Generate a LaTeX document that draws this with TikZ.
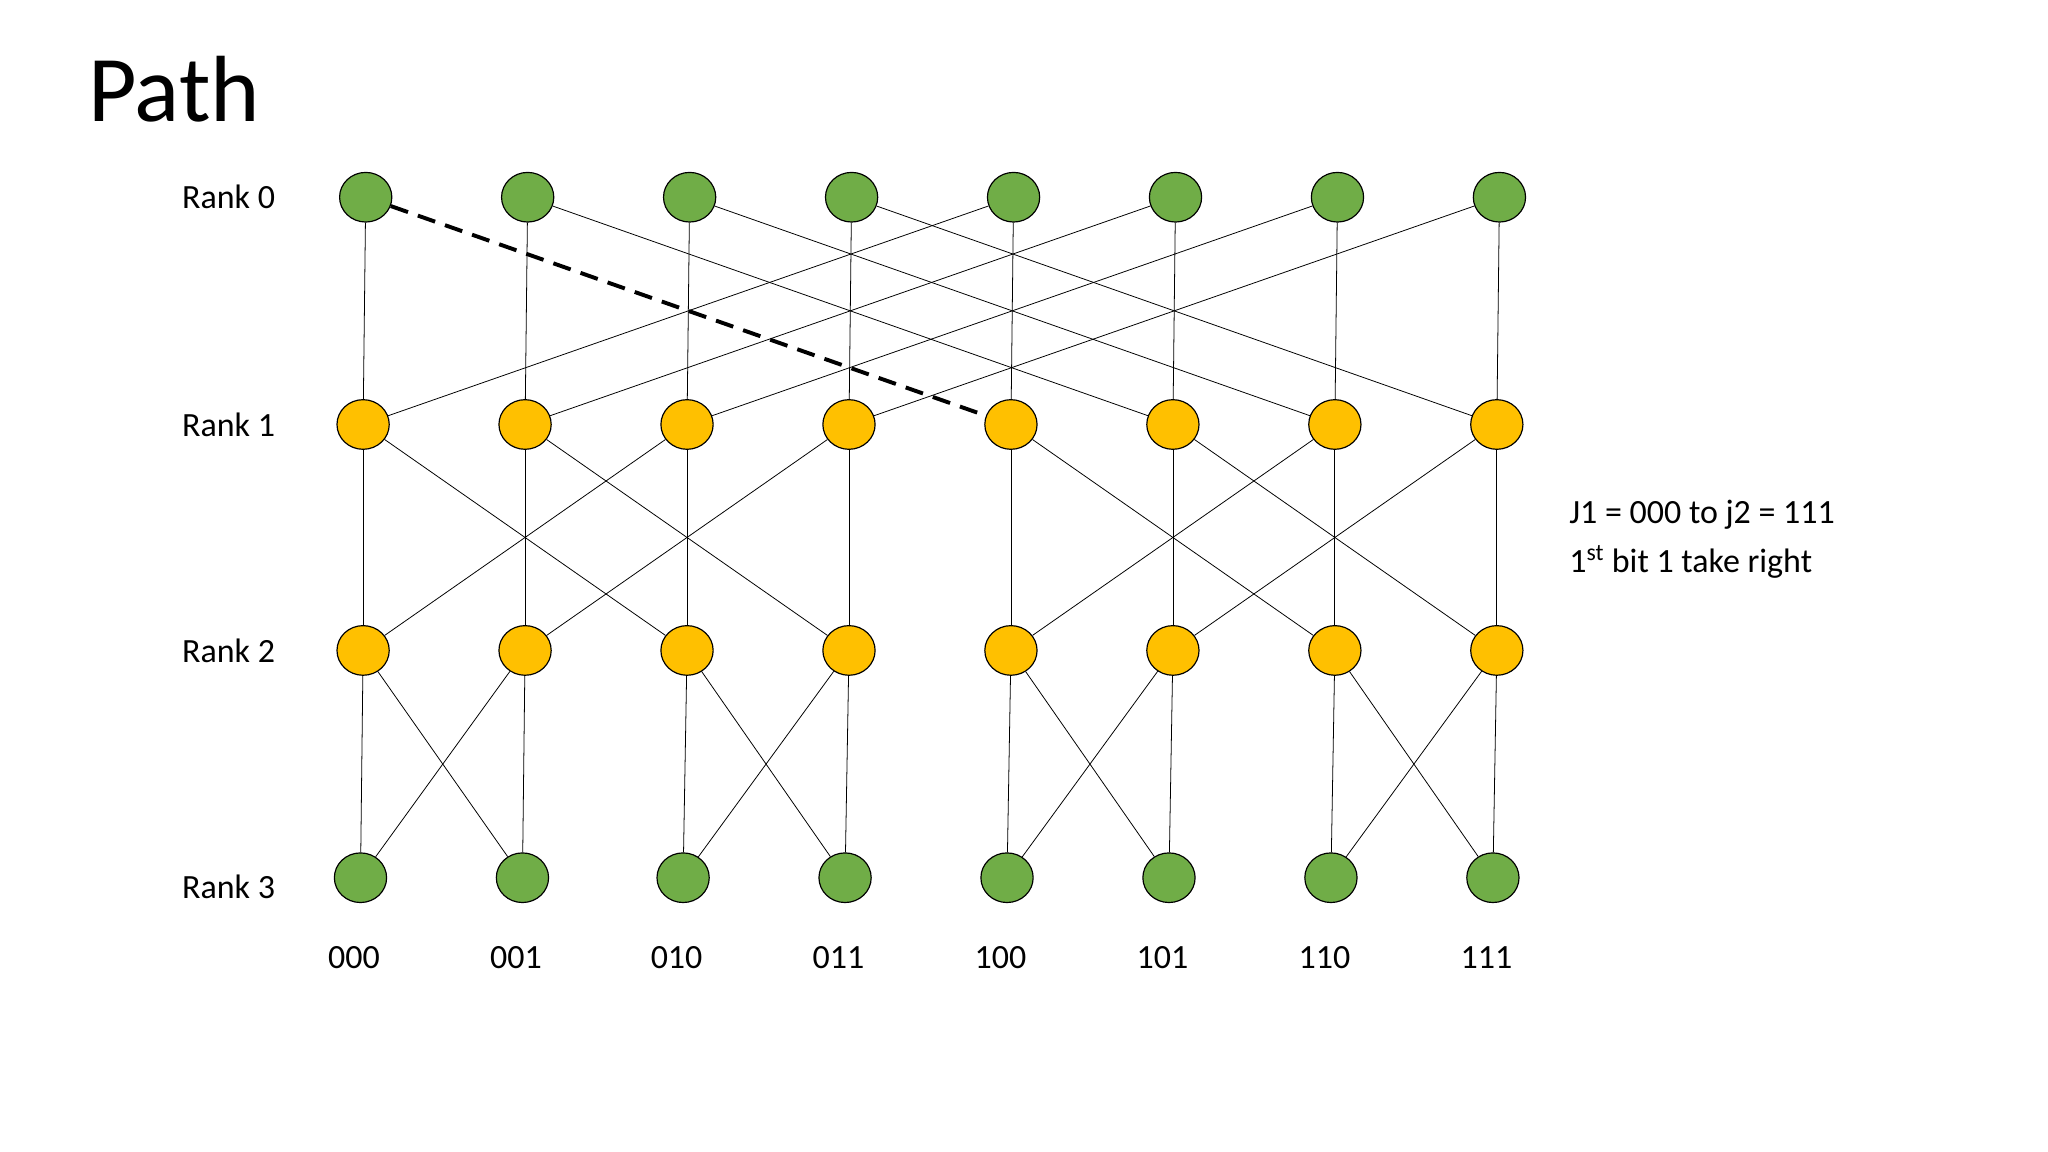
\documentclass[tikz,border=0pt]{standalone}
\usepackage{fontspec}
\setmainfont{Carlito}
\usetikzlibrary{shapes.geometric}
\begin{document}
\begin{tikzpicture}[x=1pt,y=-1pt,
  gnode/.style={ellipse,draw=black,line width=0.9pt,fill=green!45!black!60!green,minimum width=40pt,minimum height=38pt,inner sep=0pt},
  ynode/.style={ellipse,draw=black,line width=0.9pt,fill=yellow!80!orange,minimum width=40pt,minimum height=38pt,inner sep=0pt},
  edge/.style={draw=black,line width=0.6pt},
  lbl/.style={font=\fontsize{26}{30}\selectfont}]
\definecolor{gfill}{HTML}{70AD47}
\definecolor{yfill}{HTML}{FFC000}
\tikzset{gnode/.append style={fill=gfill},ynode/.append style={fill=yfill}}
\useasboundingbox[fill=white] (0,0) rectangle (1568,882);
\node[anchor=west,font=\fontsize{72}{80}\selectfont] (title) at (64,68) {Path};
\foreach \r/\y in {0/151,1/325,2/498,3/679}
  \node[lbl] (r\r) at (175,\y) {Rank \r};
\foreach \i/\x in {0/280,1/404,2/528,3/652,4/776,5/900,6/1024,7/1148}
  \node[gnode] (a\i) at (\x,151) {};
\foreach \i/\x in {0/278,1/402,2/526,3/650,4/774,5/898,6/1022,7/1146}{
  \node[ynode] (b\i) at (\x,325) {};
  \node[ynode] (c\i) at (\x,498) {};}
\foreach \i/\x/\t in {0/276/000,1/400/001,2/523/010,3/647/011,4/771/100,5/895/101,6/1019/110,7/1143/111}{
  \node[gnode] (d\i) at (\x,672) {};
  \node[lbl] (t\i) at (\x-5,733) {\t};}
\foreach \i/\j/\k/\l in {0/4/2/1,1/5/3/0,2/6/0/3,3/7/1/2,4/0/6/5,5/1/7/4,6/2/4/7,7/3/5/6}{
  \draw[edge] (a\i) -- (b\i);
  \draw[edge] (b\i) -- (c\i);
  \draw[edge] (c\i) -- (d\i);
  \ifnum\i=0\else\draw[edge] (a\i) -- (b\j);\fi
  \draw[edge] (b\i) -- (c\k);
  \draw[edge] (c\i) -- (d\l);}
\draw[black,line width=3pt,dash pattern=on 14pt off 8pt] (a0) -- (b4);
\node[lbl,anchor=west] (n1) at (1198,394) {J1 = 000 to j2 = 111};
\node[lbl,anchor=west] (n2) at (1198,430) {1\textsuperscript{st} bit 1 take right};
\end{tikzpicture}
\end{document}
